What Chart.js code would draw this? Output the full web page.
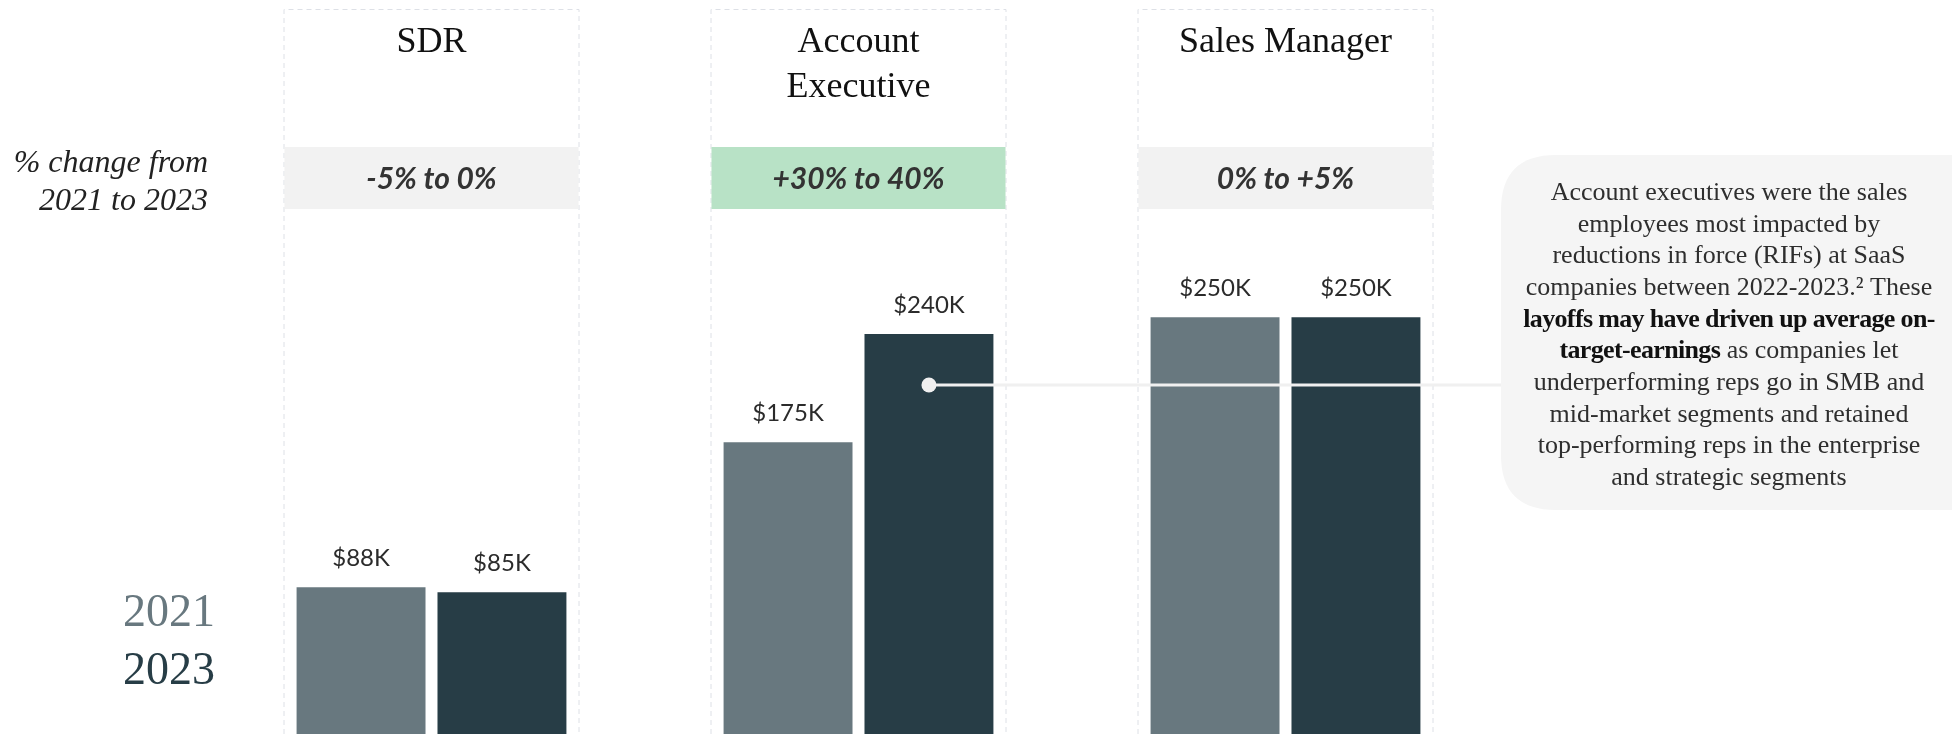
<!DOCTYPE html>
<html>
<head>
    <title>On-target earnings 2021 vs 2023</title>
    <script src="https://cdn.jsdelivr.net/npm/chart.js"></script>
    <style>
        html, body {
            margin: 0;
            padding: 0;
            background-color: #ffffff;
        }
        #chart-container {
            width: 1952px;
            height: 734px;
        }
    </style>
</head>
<body>

<div id="chart-container">
    <canvas id="oteChart" width="1952" height="734"></canvas>
</div>

<script>
// Roles (multi-line headings)
const roles = [['SDR'], ['Account', 'Executive'], ['Sales Manager']];
const years = ['2021', '2023'];

// Average OTE in $K
const ote2021 = [88, 175, 250];
const ote2023 = [85, 240, 250];

// % change boxes
const changeText = ['-5% to 0%', '+30% to 40%', '0% to +5%'];
const changeFill = ['#f2f2f2', '#b8e2c6', '#f2f2f2'];

const barColors = ['#68787f', '#273d46'];

// Callout note, each line is a list of [text, bold]
const noteLines = [
    [['Account executives were the sales', false]],
    [['employees most impacted by', false]],
    [['reductions in force (RIFs) at SaaS', false]],
    [['companies between 2022-2023.\u00b2 These', false]],
    [['layoffs may have driven up average on-', true]],
    [['target-earnings', true], [' as companies let', false]],
    [['underperforming reps go in SMB and', false]],
    [['mid-market segments and retained', false]],
    [['top-performing reps in the enterprise', false]],
    [['and strategic segments', false]]
];

const SERIF = '"Liberation Serif", "DejaVu Serif", serif';
const SANS = 'Lato, "Open Sans", sans-serif';

function roundRect(ctx, x, y, w, h, r) {
    ctx.beginPath();
    ctx.moveTo(x + r, y);
    ctx.lineTo(x + w - r, y);
    ctx.quadraticCurveTo(x + w, y, x + w, y + r);
    ctx.lineTo(x + w, y + h - r);
    ctx.quadraticCurveTo(x + w, y + h, x + w - r, y + h);
    ctx.lineTo(x + r, y + h);
    ctx.quadraticCurveTo(x, y + h, x, y + h - r);
    ctx.lineTo(x, y + r);
    ctx.quadraticCurveTo(x, y, x + r, y);
    ctx.closePath();
}

function setNoteFont(ctx, bold) {
    ctx.font = (bold ? 'bold ' : '') + '26px ' + SERIF;
    ctx.letterSpacing = bold ? '-0.65px' : '0px';
}

// panels, headings and % change boxes behind the bars
const panelPlugin = {
    id: 'panels',
    beforeDatasetsDraw(chart) {
        const ctx = chart.ctx;
        const xScale = chart.scales.x;
        const top = chart.chartArea.top;
        const bottom = chart.height;
        const half = 148;

        ctx.save();
        roles.forEach((role, i) => {
            const cx = xScale.getPixelForValue(i);

            // dashed panel frame
            ctx.strokeStyle = '#dde0e6';
            ctx.lineWidth = 1;
            ctx.setLineDash([5, 4]);
            ctx.beginPath();
            ctx.moveTo(cx - half + 0.5, bottom);
            ctx.lineTo(cx - half + 0.5, top + 0.5);
            ctx.lineTo(cx + half - 0.5, top + 0.5);
            ctx.lineTo(cx + half - 0.5, bottom);
            ctx.stroke();
            ctx.setLineDash([]);

            // heading
            ctx.fillStyle = '#111111';
            ctx.font = '36px ' + SERIF;
            ctx.textAlign = 'center';
            ctx.textBaseline = 'middle';
            role.forEach((line, j) => {
                ctx.fillText(line, cx, 43 + j * 45);
            });

            // % change box
            ctx.fillStyle = changeFill[i];
            ctx.fillRect(cx - half + 1, 147, half * 2 - 2, 62);
            ctx.fillStyle = '#333333';
            ctx.font = 'italic bold 30px ' + SANS;
            ctx.fillText(changeText[i], cx, 179);
        });

        // left side labels
        ctx.textAlign = 'right';
        ctx.fillStyle = '#222222';
        ctx.font = 'italic 32px ' + SERIF;
        ctx.fillText('% change from', 208, 164);
        ctx.fillText('2021 to 2023', 208, 202);

        ctx.font = '46px ' + SERIF;
        years.forEach((yr, k) => {
            ctx.fillStyle = barColors[k];
            ctx.fillText(yr, 215, 614 + k * 58);
        });
        ctx.restore();
    },
    afterDatasetsDraw(chart) {
        const ctx = chart.ctx;
        ctx.save();

        // value labels above bars
        ctx.fillStyle = '#2b2b2b';
        ctx.font = '24px ' + SANS;
        ctx.textAlign = 'center';
        ctx.textBaseline = 'middle';
        chart.data.datasets.forEach((ds, d) => {
            chart.getDatasetMeta(d).data.forEach((bar, i) => {
                ctx.fillText('$' + ds.data[i] + 'K', bar.x, bar.y - 29);
            });
        });

        // connector from AE 2023 bar to the note
        const aeBar = chart.getDatasetMeta(1).data[1];
        const lineY = 385;
        const boxX = 1501, boxY = 155, boxH = 355;
        ctx.strokeStyle = '#f0f0f0';
        ctx.lineWidth = 3;
        ctx.beginPath();
        ctx.moveTo(aeBar.x, lineY);
        ctx.lineTo(boxX + 2, lineY);
        ctx.stroke();
        ctx.fillStyle = '#f0f0f0';
        ctx.beginPath();
        ctx.arc(aeBar.x, lineY, 7.5, 0, Math.PI * 2);
        ctx.fill();

        // note box
        ctx.fillStyle = '#f5f5f5';
        roundRect(ctx, boxX, boxY, 520, boxH, 55);
        ctx.fill();

        const cx = 1729;
        ctx.textAlign = 'left';
        noteLines.forEach((segs, n) => {
            let total = 0;
            segs.forEach(s => {
                setNoteFont(ctx, s[1]);
                total += ctx.measureText(s[0]).width;
            });
            let x = cx - total / 2;
            segs.forEach(s => {
                setNoteFont(ctx, s[1]);
                ctx.fillStyle = s[1] ? '#111111' : '#2e2e2e';
                ctx.fillText(s[0], x, 193 + n * 31.7);
                x += ctx.measureText(s[0]).width;
            });
        });
        ctx.letterSpacing = '0px';
        ctx.restore();
    }
};

const ctx = document.getElementById('oteChart').getContext('2d');
const chart = new Chart(ctx, {
    type: 'bar',
    data: {
        labels: roles.map(r => r.join(' ')),
        datasets: [{
            label: years[0],
            data: ote2021,
            backgroundColor: barColors[0],
            categoryPercentage: 0.66,
            barPercentage: 0.915
        }, {
            label: years[1],
            data: ote2023,
            backgroundColor: barColors[1],
            categoryPercentage: 0.66,
            barPercentage: 0.915
        }]
    },
    options: {
        responsive: false,
        animation: false,
        devicePixelRatio: 1,
        layout: {
            padding: { left: 218, right: 453, top: 9, bottom: 0 }
        },
        plugins: {
            legend: { display: false },
            tooltip: { enabled: false }
        },
        scales: {
            x: { display: false },
            y: { display: false, min: 0, max: 435 }
        }
    },
    plugins: [panelPlugin]
});
</script>

</body>
</html>
